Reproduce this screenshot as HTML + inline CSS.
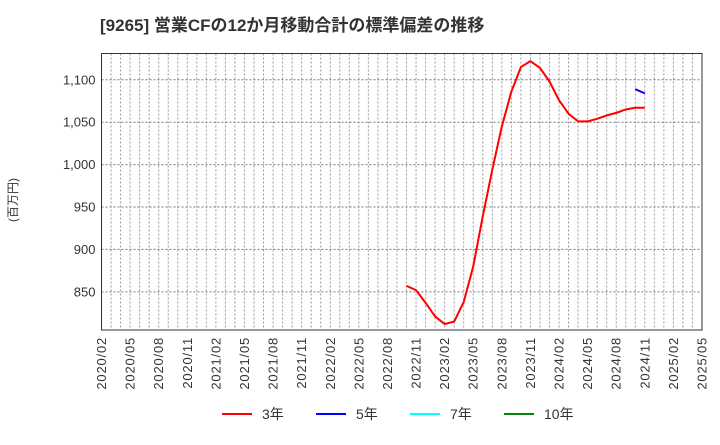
<!DOCTYPE html>
<html><head><meta charset="utf-8"><style>
body{margin:0;background:#fff;font-family:"Liberation Sans","Noto Sans CJK JP",sans-serif;}
svg text{font-family:"Liberation Sans","Noto Sans CJK JP",sans-serif;}
</style></head><body>
<svg id="c" width="720" height="440" xmlns="http://www.w3.org/2000/svg">
<text x="100" y="31" font-size="17" font-weight="bold" fill="#333">[9265]  営業CFの12か月移動合計の標準偏差の推移</text>
<text transform="translate(17,200) rotate(-90)" font-size="12" fill="#333" text-anchor="middle">(百万円)</text>
<g id="grid"></g><g id="series"></g><g id="axes"></g>
<g font-size="14" fill="#333">
<line x1="222" y1="414" x2="252" y2="414" stroke="#f00" stroke-width="2"/><text x="262" y="419">3年</text>
<line x1="316" y1="414" x2="346" y2="414" stroke="#00f" stroke-width="2"/><text x="356" y="419">5年</text>
<line x1="410" y1="414" x2="440" y2="414" stroke="#0ff" stroke-width="2"/><text x="450" y="419">7年</text>
<line x1="504" y1="414" x2="534" y2="414" stroke="#080" stroke-width="2"/><text x="544" y="419">10年</text>
</g>
</svg>
<script>
const xTickLabels=["2020/02","2020/05","2020/08","2020/11","2021/02","2021/05","2021/08","2021/11","2022/02","2022/05","2022/08","2022/11","2023/02","2023/05","2023/08","2023/11","2024/02","2024/05","2024/08","2024/11","2025/02","2025/05"];
const yTicks=[850,900,950,1000,1050,1100];
const s3Start=32; // months after 2020/02 (2022/10)
const s3Values=[857,852,837,821,812,815,838,880,939,994,1045,1086,1115,1122,1114,1098,1076,1060,1051,1051,1054,1058,1061,1065,1067,1067];
const s5Start=56; // 2024/10
const s5Values=[1089,1084];
const L=101.5,R=702,T=53.5,B=330,yMin=805,yMax=1131,nMonths=63;
const ns="http://www.w3.org/2000/svg";
const X=m=>L+(R-L)*m/nMonths;
const Y=v=>B-(B-T)*(v-yMin)/(yMax-yMin);
function mk(t,a,p){const e=document.createElementNS(ns,t);for(const k in a)e.setAttribute(k,a[k]);p.appendChild(e);return e;}
const g=document.getElementById('grid'),ax=document.getElementById('axes'),se=document.getElementById('series');
for(let m=1;m<nMonths;m++){const l=mk('line',{x1:X(m),x2:X(m),y1:T,y2:B,stroke:'#999','stroke-dasharray':'2,2','stroke-width':1},g);

}
yTicks.forEach(v=>{const l=mk('line',{x1:L,x2:R,y1:Y(v),y2:Y(v),stroke:'#777','stroke-dasharray':'2,2','stroke-width':1},g);


const t=mk('text',{x:L-6,y:Y(v)+4.5,'font-size':13,'text-anchor':'end',fill:'#333'},ax);t.textContent=v.toLocaleString('en-US');

});
xTickLabels.forEach((s,i)=>{const x=X(i*3);const t=mk('text',{transform:`translate(${x+4.5},${B+7}) rotate(-90)`,'font-size':13,'letter-spacing':'0.8','text-anchor':'end',fill:'#333'},ax);t.textContent=s;

});
const f=mk('rect',{x:L,y:T,width:R-L,height:B-T,fill:'none',stroke:'#333','stroke-width':1},ax);


function line(start,vals,col,name){const p=mk('polyline',{points:vals.map((v,i)=>X(start+i)+','+Y(v)).join(' '),fill:'none',stroke:col,'stroke-width':2,'stroke-linejoin':'round'},se);

}
line(s3Start,s3Values,'#f00','series-3y');
line(s5Start,s5Values,'#00f','series-5y');
</script>
</body></html>
